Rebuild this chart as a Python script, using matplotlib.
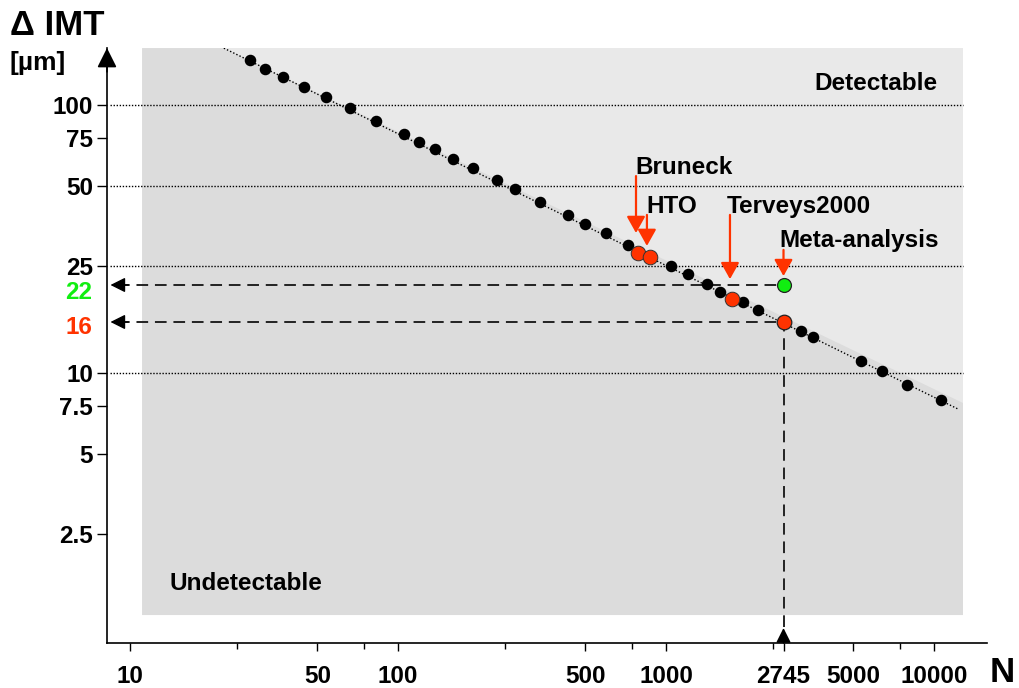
import matplotlib
matplotlib.use('Agg')
import matplotlib.pyplot as plt
from matplotlib.patches import Polygon
from matplotlib.ticker import NullFormatter, NullLocator

plt.rcParams['font.family'] = ['Liberation Sans', 'DejaVu Sans']
plt.rcParams['font.weight'] = 'bold'

# sample size N vs detectable IMT difference (um)
n_values = [28.0, 31.9, 37.1, 44.6, 53.9, 66.2, 82.8, 105, 120, 138, 160, 190,
            234, 274, 339, 430, 500, 595, 723, 1044, 1205, 1419, 1591, 1933,
            2199, 3181, 3527, 5326, 6381, 7910, 10620]
imt_values = [147, 136, 127, 117, 107, 97.4, 87.4, 77.7, 72.8, 68.3, 63.0, 58.2,
              52.4, 48.6, 43.5, 38.9, 35.9, 33.2, 30.0, 25.1, 23.4, 21.4, 20.1,
              18.4, 17.2, 14.3, 13.6, 11.1, 10.2, 9.02, 7.93]

studies = ['Bruneck', 'HTO', 'Terveys2000']
study_n = [788, 872, 1768]
study_imt = [28.0, 27.0, 18.9]

meta_n = 2745
meta_red = 15.5
meta_green = 21.3
meta_red_label = '16'
meta_green_label = '22'

fit_n = [22.4, 12290]
fit_imt = [163, 7.34]

region_n = [11.1, 12830]
region_imt = [1.25, 163]
boundary_n = [22.4, 12830]
boundary_imt = [163, 7.73]

grid_imt = [10, 25, 50, 100]
y_ticks = [2.5, 5, 7.5, 10, 25, 50, 75, 100]
y_labels = ['2.5', '5', '7.5', '10', '25', '50', '75', '100']
x_ticks = [10, 50, 100, 500, 1000, 2745, 5000, 10000]
x_labels = ['10', '50', '100', '500', '1000', '2745', '5000', '10000']
x_minor = [25, 75, 250, 750, 2500, 7500]

RED = '#ff3300'
GREEN = '#11ee11'
LIGHT = '#e9e9e9'
DARK = '#dcdcdc'
FS = 17.5

fig = plt.figure(figsize=(10.2, 6.88), dpi=100)
ax = fig.add_axes([107 / 1020, 45 / 688, 880 / 1020, 595 / 688])
ax.set_xscale('log')
ax.set_yscale('log')
xmin, xmax = 8.21, 15770
ymin, ymax = 0.983, 163.2
ax.set_xlim(xmin, xmax)
ax.set_ylim(ymin, ymax)

# background regions
ax.add_patch(Polygon([(region_n[0], region_imt[0]), (region_n[0], region_imt[1]),
                      (region_n[1], region_imt[1]), (region_n[1], region_imt[0])],
                     closed=True, facecolor=LIGHT, edgecolor='none', zorder=0))
ax.add_patch(Polygon([(region_n[0], region_imt[0]), (region_n[0], region_imt[1]),
                      (boundary_n[0], boundary_imt[0]), (boundary_n[1], boundary_imt[1]),
                      (region_n[1], region_imt[0])],
                     closed=True, facecolor=DARK, edgecolor='none', zorder=0.5))

ax.hlines(grid_imt, xmin * 1.03, region_n[1], colors='black', linewidth=1,
          linestyles=(0, (1, 1.2)), zorder=1)

ax.plot(fit_n, fit_imt, color='black', linewidth=1, linestyle=(0, (1, 1.5)), zorder=2)
ax.plot(n_values, imt_values, 'o', color='black', markersize=7.3, zorder=3)
ax.plot(study_n, study_imt, 'o', color=RED, markersize=10.5,
        markeredgecolor='#333333', markeredgewidth=0.7, zorder=4)
ax.plot([meta_n], [meta_red], 'o', color=RED, markersize=10.5,
        markeredgecolor='#222222', markeredgewidth=0.9, zorder=4)
ax.plot([meta_n], [meta_green], 'o', color=GREEN, markersize=10,
        markeredgecolor='#222222', markeredgewidth=0.9, zorder=4)

# dashed guides to the axes
dash = dict(color='#222222', linewidth=1.4, linestyle=(0, (6, 3.5)), zorder=2.5)
ax.plot([xmin * 1.1, meta_n], [meta_green, meta_green], **dash)
ax.plot([xmin * 1.1, meta_n], [meta_red, meta_red], **dash)
ax.plot([meta_n, meta_n], [ymin * 1.15, meta_red], **dash)
head = dict(arrowstyle='-|>,head_length=0.5,head_width=0.25', color='black',
            linewidth=1, shrinkA=0, shrinkB=0, mutation_scale=18)
ax.annotate('', xy=(xmin * 1.03, meta_green), xytext=(xmin * 1.2, meta_green), arrowprops=head)
ax.annotate('', xy=(xmin * 1.03, meta_red), xytext=(xmin * 1.2, meta_red), arrowprops=head)
ax.annotate('', xy=(meta_n, 1.118), xytext=(meta_n, ymin), arrowprops=head)

# study labels and red arrows
red_head = dict(arrowstyle='-|>,head_length=0.5,head_width=0.28', color=RED,
                linewidth=1.6, shrinkA=0, shrinkB=0, mutation_scale=20)
ax.text(766, 55.3, studies[0], fontsize=FS, fontweight='bold', va='baseline', zorder=5)
ax.annotate('', xy=(773, 33.3), xytext=(773, 54.3), arrowprops=red_head)
ax.text(842, 39.5, studies[1], fontsize=FS, fontweight='bold', va='baseline', zorder=5)
ax.annotate('', xy=(849, 29.8), xytext=(849, 38.9), arrowprops=red_head)
ax.text(1689, 39.5, studies[2], fontsize=FS, fontweight='bold', va='baseline', zorder=5)
ax.annotate('', xy=(1733, 22.4), xytext=(1733, 38.9), arrowprops=red_head)
ax.text(2640, 29.5, 'Meta-analysis', fontsize=FS, fontweight='bold', va='baseline', zorder=5)
ax.annotate('', xy=(meta_n, 23.0), xytext=(meta_n, 28.8), arrowprops=red_head)

ax.text(10350, 113.8, 'Detectable', fontsize=FS, fontweight='bold', ha='right', va='baseline')
ax.text(14.1, 1.55, 'Undetectable', fontsize=FS, fontweight='bold', ha='left', va='baseline')

# colored y labels for the meta-analysis values
ytr = ax.get_yaxis_transform()
ax.text(-0.017, 19.9, meta_green_label, transform=ytr, color=GREEN, fontsize=FS,
        fontweight='bold', ha='right', va='center')
ax.text(-0.017, 14.8, meta_red_label, transform=ytr, color=RED, fontsize=FS,
        fontweight='bold', ha='right', va='center')

# axes styling
for side in ['top', 'right']:
    ax.spines[side].set_visible(False)
ax.spines['left'].set_linewidth(1.2)
ax.spines['bottom'].set_linewidth(1.2)
ax.annotate('', xy=(0, 1), xytext=(0, 0.96), xycoords='axes fraction',
            arrowprops=dict(arrowstyle='-|>,head_length=0.6,head_width=0.3', color='black',
                            linewidth=1.2, shrinkA=0, shrinkB=0, mutation_scale=20))

ax.set_xticks(x_ticks)
ax.set_xticklabels(x_labels)
ax.set_xticks(x_minor, minor=True)
ax.xaxis.set_minor_formatter(NullFormatter())
ax.set_yticks(y_ticks)
ax.set_yticklabels(y_labels)
ax.yaxis.set_minor_locator(NullLocator())
ax.tick_params(axis='x', which='major', length=6, width=1, pad=10, labelsize=FS)
ax.tick_params(axis='x', which='minor', length=4, width=1)
ax.tick_params(axis='y', which='major', length=7, width=1, pad=3, labelsize=FS)
for lab in ax.get_xticklabels() + ax.get_yticklabels():
    lab.set_fontweight('bold')

fig.text(10 / 1020, 1 - 35 / 688, 'Δ IMT', fontsize=25, fontweight='bold', va='baseline')
fig.text(10 / 1020, 1 - 70 / 688, '[µm]', fontsize=19, fontweight='bold', va='baseline')
fig.text(990 / 1020, 6 / 688, 'N', fontsize=25, fontweight='bold', va='baseline')

fig.savefig('out.png', dpi=100)
